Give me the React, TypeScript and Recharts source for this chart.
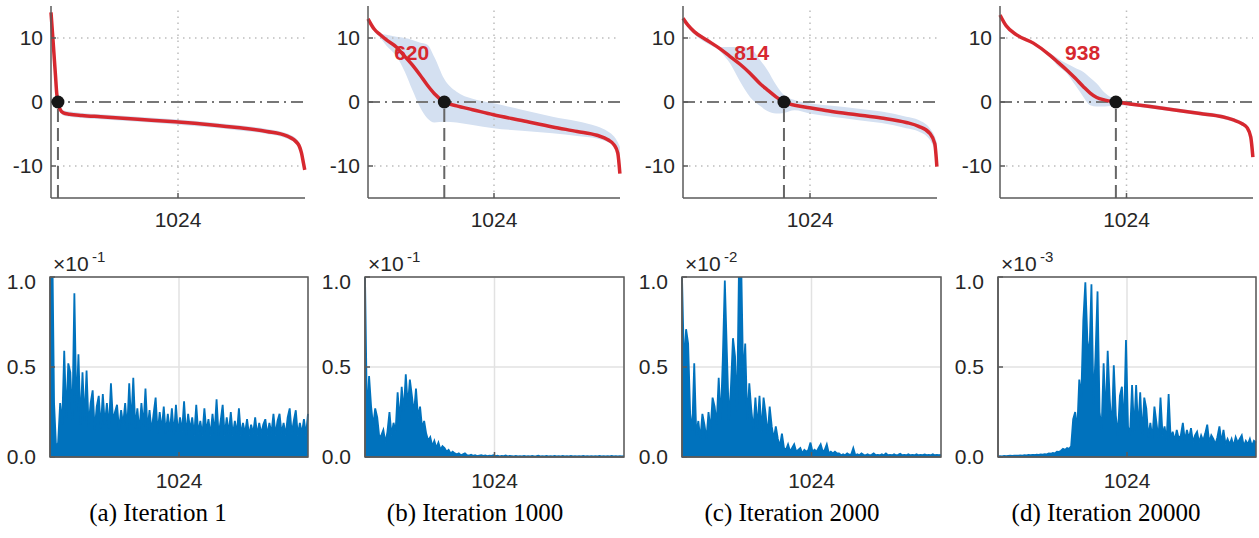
import {
  ComposedChart,
  Line,
  Area,
  XAxis,
  YAxis,
  CartesianGrid,
  ReferenceLine,
  ReferenceDot,
  ReferenceArea,
} from "recharts";

const RED = "#d7282f";
const BAND = "#d4e0f1";
const BLUE = "#0072bd";
const AXIS = "#5a5a5a";
const TEXT = "#262626";
const GRID_DOT = "#bdbdbd";
const SANS = '"Liberation Sans", Arial, Helvetica, sans-serif';
const SERIF = '"Liberation Serif", "Times New Roman", serif';

// top row: sorted values (mean) with the spread band, per iteration
const IDX_A = [0, 12, 24, 36, 46, 56, 75, 100, 150, 250, 400, 700, 1000, 1300, 1500, 1740, 1900, 1990, 2020, 2036, 2046];
const MEAN_A = [14, 10.8, 7.5, 4.2, 1.4, 0, -1.2, -1.7, -1.9, -2.1, -2.3, -2.7, -3.1, -3.6, -4.0, -4.6, -5.3, -6.5, -8.0, -9.6, -10.6];
const LO_A = [14, 10.6, 7.3, 4.0, 1.2, -0.3, -1.6, -2.1, -2.3, -2.5, -2.7, -3.1, -3.5, -4.0, -4.4, -5.0, -5.7, -6.8, -8.2, -9.6, -10.6];
const HI_A = [14, 11.0, 7.7, 4.4, 1.6, 0.3, -0.8, -1.3, -1.5, -1.7, -1.9, -2.3, -2.7, -3.2, -3.6, -4.2, -4.9, -6.0, -7.4, -9.0, -10.2];

const IDX_B = [0, 50, 100, 150, 230, 300, 360, 420, 480, 540, 620, 720, 850, 1020, 1250, 1500, 1700, 1860, 1950, 2000, 2030, 2047];
const MEAN_B = [13.0, 11.4, 10.5, 9.7, 8.6, 7.1, 5.8, 4.3, 2.7, 1.3, 0, -0.6, -1.2, -2.0, -2.9, -3.9, -4.6, -5.2, -5.9, -6.7, -8.0, -11.2];
const LO_B = [12.8, 11.0, 10.0, 8.8, 7.2, 4.7, 1.9, -0.7, -2.5, -3.2, -3.1, -3.2, -3.6, -4.1, -4.5, -4.9, -5.3, -5.7, -6.3, -7.0, -8.0, -9.0];
const HI_B = [13.2, 11.6, 10.8, 10.5, 10.2, 10.0, 9.7, 9.3, 9.0, 7.0, 3.6, 1.6, 0.5, -0.2, -1.2, -2.3, -3.0, -3.8, -4.6, -5.4, -6.3, -7.0];

const IDX_C = [0, 40, 90, 190, 300, 380, 460, 540, 620, 680, 750, 814, 900, 1020, 1200, 1400, 1600, 1800, 1900, 1990, 2030, 2047];
const MEAN_C = [13.1, 12.0, 11.0, 9.7, 8.3, 7.1, 5.9, 4.5, 2.9, 1.9, 0.8, 0, -0.5, -0.9, -1.5, -2.0, -2.5, -3.2, -3.8, -4.9, -6.5, -10.1];
const LO_C = [13.1, 11.6, 10.6, 9.2, 7.9, 6.0, 3.2, 0.8, -0.6, -1.4, -1.8, -1.7, -1.3, -1.8, -2.3, -2.8, -3.3, -4.1, -4.6, -5.9, -7.4, -8.3];
const HI_C = [13.1, 12.2, 11.3, 10.0, 8.6, 8.6, 8.6, 8.4, 6.6, 5.0, 2.7, 1.1, 0.3, -0.2, -0.6, -1.0, -1.5, -2.3, -2.8, -4.1, -5.4, -6.4];

const IDX_D = [0, 50, 135, 270, 405, 470, 540, 610, 675, 730, 783, 850, 938, 1050, 1215, 1400, 1620, 1800, 1889, 1960, 2000, 2030, 2047];
const MEAN_D = [13.6, 11.9, 10.5, 9.2, 7.3, 6.2, 5.0, 3.7, 2.4, 1.4, 0.7, 0.3, 0, -0.3, -0.7, -1.2, -1.8, -2.3, -2.8, -3.4, -4.0, -5.5, -8.6];
const LO_D = [13.5, 11.7, 10.3, 9.0, 7.0, 5.6, 4.5, 2.6, 0.8, -0.5, -0.7, -0.7, -0.5, -0.6, -1.0, -1.5, -2.1, -2.6, -3.1, -3.7, -4.3, -5.8, -8.6];
const HI_D = [13.7, 12.1, 10.7, 9.4, 7.6, 6.8, 6.0, 5.3, 4.7, 3.8, 2.9, 1.4, 0.4, 0.0, -0.4, -0.9, -1.5, -2.0, -2.5, -3.1, -3.7, -5.2, -8.4];

// zero crossing index and its label
const CROSS = [56, 620, 814, 938];
const CROSS_LABELS = ["", "620", "814", "938"];
const LABEL_AT = [0, 355, 554, 669];

// bottom row: spectra, one value every SPEC_STEP bins, in units of the exponent
const SPEC_STEP = 16.125;
const SPEC_A = [
  1.4, 1.3, 0.3, 0.05, 0.08, 0.3, 0.18, 0.59, 0.22, 0.52, 0.47, 0.2, 0.91, 0.25, 0.57, 0.18,
  0.47, 0.2, 0.48, 0.17, 0.3, 0.37, 0.15, 0.28, 0.34, 0.16, 0.35, 0.18, 0.3, 0.16, 0.41, 0.2,
  0.25, 0.29, 0.15, 0.26, 0.18, 0.3, 0.15, 0.41, 0.18, 0.44, 0.16, 0.27, 0.14, 0.3, 0.17, 0.38,
  0.15, 0.26, 0.14, 0.24, 0.33, 0.13, 0.25, 0.15, 0.28, 0.13, 0.24, 0.14, 0.27, 0.12, 0.29, 0.13,
  0.22, 0.14, 0.31, 0.12, 0.24, 0.15, 0.22, 0.12, 0.29, 0.13, 0.2, 0.12, 0.27, 0.14, 0.21, 0.12,
  0.24, 0.13, 0.32, 0.12, 0.2, 0.29, 0.12, 0.22, 0.13, 0.25, 0.12, 0.2, 0.13, 0.27, 0.12, 0.19,
  0.13, 0.21, 0.12, 0.18, 0.13, 0.22, 0.12, 0.19, 0.13, 0.18, 0.21, 0.12, 0.19, 0.13, 0.24, 0.12,
  0.2, 0.24, 0.13, 0.19, 0.12, 0.22, 0.27, 0.13, 0.2, 0.26, 0.12, 0.19, 0.13, 0.21, 0.12, 0.24,
];
const SPEC_B = [
  1.0, 0.2, 0.45, 0.28, 0.17, 0.27, 0.22, 0.11, 0.12, 0.15, 0.08, 0.14, 0.25, 0.12, 0.19, 0.14,
  0.36, 0.2, 0.39, 0.25, 0.46, 0.28, 0.43, 0.34, 0.24, 0.38, 0.22, 0.28, 0.16, 0.2, 0.13, 0.09,
  0.11, 0.06, 0.09, 0.05, 0.08, 0.04, 0.06, 0.05, 0.03, 0.04, 0.02, 0.03, 0.02, 0.015, 0.02, 0.01,
  0.015, 0.02, 0.01, 0.008, 0.012, 0.006, 0.01, 0.005, 0.008, 0.01, 0.006, 0.009, 0.005, 0.008, 0.006, 0.01,
  0.005, 0.007, 0.004, 0.006, 0.005, 0.008, 0.004, 0.006, 0.005, 0.004, 0.006, 0.004, 0.005, 0.004, 0.006, 0.004,
  0.005, 0.004, 0.006, 0.004, 0.005, 0.007, 0.004, 0.005, 0.004, 0.006, 0.004, 0.005, 0.004, 0.006, 0.004, 0.005,
  0.004, 0.006, 0.004, 0.005, 0.004, 0.006, 0.004, 0.005, 0.004, 0.005, 0.004, 0.006, 0.004, 0.005, 0.004, 0.005,
  0.004, 0.005, 0.004, 0.006, 0.004, 0.005, 0.004, 0.005, 0.004, 0.006, 0.004, 0.005, 0.004, 0.005, 0.004, 0.005,
];
const SPEC_C = [
  1.0, 0.5, 0.71, 0.63, 0.24, 0.14, 0.52, 0.12, 0.2, 0.1, 0.24, 0.18, 0.1, 0.25, 0.15, 0.33,
  0.28, 0.18, 0.44, 0.2, 0.54, 0.98, 0.58, 0.2, 0.39, 0.66, 0.56, 0.25, 1.1, 1.1, 0.43, 0.63,
  0.2, 0.41, 0.26, 0.15, 0.33, 0.16, 0.34, 0.14, 0.33, 0.24, 0.12, 0.28, 0.17, 0.1, 0.17, 0.1,
  0.06, 0.13, 0.05, 0.04, 0.07, 0.03, 0.05, 0.07, 0.03, 0.04, 0.05, 0.02, 0.04, 0.03, 0.04, 0.08,
  0.03, 0.04, 0.03, 0.05, 0.07, 0.03, 0.04, 0.07, 0.02, 0.03, 0.02, 0.03, 0.02, 0.02, 0.01, 0.015,
  0.01, 0.02, 0.012, 0.015, 0.05, 0.01, 0.015, 0.01, 0.02, 0.012, 0.01, 0.015, 0.01, 0.012, 0.02, 0.01,
  0.012, 0.01, 0.015, 0.01, 0.02, 0.01, 0.012, 0.01, 0.015, 0.01, 0.012, 0.018, 0.01, 0.012, 0.01, 0.015,
  0.01, 0.012, 0.01, 0.015, 0.01, 0.012, 0.01, 0.014, 0.01, 0.012, 0.01, 0.015, 0.01, 0.012, 0.01, 0.012,
];
const SPEC_D = [
  0.004, 0.005, 0.004, 0.006, 0.005, 0.006, 0.007, 0.006, 0.008, 0.007, 0.008, 0.009, 0.008, 0.01, 0.009, 0.011,
  0.01, 0.012, 0.011, 0.013, 0.012, 0.014, 0.013, 0.016, 0.015, 0.02, 0.018, 0.022, 0.02, 0.03, 0.028, 0.035,
  0.045, 0.04, 0.05, 0.045, 0.06, 0.21, 0.25, 0.15, 0.43, 0.33, 0.76, 0.97, 0.65, 0.56, 0.96, 0.29,
  0.56, 0.92, 0.25, 0.15, 0.52, 0.21, 0.59, 0.32, 0.15, 0.51, 0.23, 0.12, 0.34, 0.39, 0.15, 0.65,
  0.17, 0.12, 0.4, 0.14, 0.4, 0.15, 0.36, 0.12, 0.33, 0.27, 0.11, 0.19, 0.1, 0.28, 0.19, 0.1,
  0.33, 0.12, 0.17, 0.09, 0.35, 0.1, 0.14, 0.09, 0.15, 0.1, 0.12, 0.19, 0.09, 0.15, 0.1, 0.16,
  0.08, 0.12, 0.14, 0.08, 0.12, 0.09, 0.13, 0.18, 0.08, 0.12, 0.1, 0.07, 0.11, 0.17, 0.08, 0.15,
  0.07, 0.1, 0.07, 0.1, 0.06, 0.11, 0.08, 0.1, 0.12, 0.06, 0.09, 0.07, 0.1, 0.06, 0.09, 0.08,
];

const EXPONENTS = ["-1", "-1", "-2", "-3"];
const CAPTIONS = ["(a) Iteration 1", "(b) Iteration 1000", "(c) Iteration 2000", "(d) Iteration 20000"];

// layout (px)
const TOP_LEFT = [51, 368, 683, 1000];
const TOP_W = [254, 252, 254, 253];
const BOT_LEFT = [50, 365, 682, 998];
const BOT_W = [258, 259, 259, 258];
const CAPTION_X = [158, 475, 792, 1106];

const SORTED = [
  { idx: IDX_A, mean: MEAN_A, lo: LO_A, hi: HI_A },
  { idx: IDX_B, mean: MEAN_B, lo: LO_B, hi: HI_B },
  { idx: IDX_C, mean: MEAN_C, lo: LO_C, hi: HI_C },
  { idx: IDX_D, mean: MEAN_D, lo: LO_D, hi: HI_D },
];
const SPECTRA = [SPEC_A, SPEC_B, SPEC_C, SPEC_D];

const tickStyle = { fill: TEXT, fontSize: 21, fontFamily: SANS };

function SortedPanel({ k }: { k: number }) {
  const s = SORTED[k];
  const data = s.idx.map((x, i) => ({ x, mean: s.mean[i], band: [s.lo[i], s.hi[i]] }));
  const w = TOP_W[k];
  const cross = CROSS[k];
  return (
    <div style={{ position: "absolute", left: TOP_LEFT[k] - 50, top: 0 }}>
      <ComposedChart
        width={w + 56}
        height={240}
        data={data}
        margin={{ top: 6, right: 6, bottom: 0, left: 0 }}
        style={{ fontFamily: SANS }}
      >
        <XAxis
          dataKey="x"
          type="number"
          domain={[0, 2048]}
          ticks={[1024]}
          height={42}
          axisLine={{ stroke: AXIS, strokeWidth: 1.5 }}
          tickLine={{ stroke: AXIS, strokeWidth: 1.5 }}
          tickSize={-5}
          tickMargin={19}
          tick={tickStyle}
        />
        <YAxis
          type="number"
          domain={[-15, 15]}
          ticks={[-10, 0, 10]}
          width={50}
          axisLine={{ stroke: AXIS, strokeWidth: 1.5 }}
          tickLine={{ stroke: AXIS, strokeWidth: 1.5 }}
          tickSize={-5}
          tickMargin={13}
          tick={tickStyle}
        />
        <ReferenceLine y={10} stroke={GRID_DOT} strokeWidth={1.5} strokeDasharray="1.5 4.5" />
        <ReferenceLine y={-10} stroke={GRID_DOT} strokeWidth={1.5} strokeDasharray="1.5 4.5" />
        <ReferenceLine x={1024} stroke={GRID_DOT} strokeWidth={1.5} strokeDasharray="1.5 4.5" />
        <Area
          dataKey="band"
          type="monotone"
          fill={BAND}
          fillOpacity={1}
          stroke="none"
          isAnimationActive={false}
        />
        <ReferenceLine y={0} stroke="#777" strokeWidth={2} strokeDasharray="12 5 2 5" />
        <ReferenceLine
          segment={[{ x: cross, y: -15 }, { x: cross, y: 0 }]}
          stroke="#666"
          strokeWidth={2}
          strokeDasharray="13 6"
        />
        <Line
          dataKey="mean"
          type="monotone"
          stroke={RED}
          strokeWidth={3.5}
          dot={false}
          isAnimationActive={false}
        />
        <ReferenceDot x={cross} y={0} r={6.5} fill="#161616" stroke="none" />
        {CROSS_LABELS[k] && (
          <ReferenceDot
            x={LABEL_AT[k]}
            y={7.8}
            r={0}
            fill="none"
            stroke="none"
            label={{ value: CROSS_LABELS[k], fill: RED, fontSize: 21, fontWeight: 700, position: "center" }}
          />
        )}
      </ComposedChart>
    </div>
  );
}

function SpectrumPanel({ k }: { k: number }) {
  const data = SPECTRA[k].map((v, i) => ({ x: i * SPEC_STEP, v }));
  const left = BOT_LEFT[k];
  const w = BOT_W[k];
  return (
    <>
      <div style={{ position: "absolute", left: left - 50, top: 269 }}>
        <ComposedChart
          width={w + 56}
          height={240}
          data={data}
          margin={{ top: 8, right: 6, bottom: 0, left: 0 }}
          style={{ fontFamily: SANS }}
        >
          <CartesianGrid stroke="#e2e2e2" strokeWidth={1.5} />
          <XAxis
            dataKey="x"
            type="number"
            domain={[0, 2048]}
            ticks={[1024]}
            height={52}
            axisLine={{ stroke: AXIS, strokeWidth: 1.5 }}
            tickLine={{ stroke: AXIS, strokeWidth: 1.5 }}
            tickSize={-5}
            tickMargin={21}
            tick={tickStyle}
          />
          <YAxis
            type="number"
            domain={[0, 1]}
            ticks={[0, 0.5, 1]}
            allowDataOverflow
            width={50}
            axisLine={{ stroke: AXIS, strokeWidth: 1.5 }}
            tickLine={{ stroke: AXIS, strokeWidth: 1.5 }}
            tickSize={-5}
            tickMargin={19}
            tick={tickStyle}
            tickFormatter={(v: number) => v.toFixed(1)}
          />
          <Area
            dataKey="v"
            type="linear"
            stroke={BLUE}
            strokeWidth={1.8}
            fill={BLUE}
            fillOpacity={1}
            isAnimationActive={false}
          />
          <ReferenceArea x1={0} x2={2048} y1={0} y2={1} fill="none" fillOpacity={0} stroke={AXIS} strokeWidth={1.5} />
        </ComposedChart>
      </div>
      <div
        style={{
          position: "absolute",
          left: left + 3,
          top: 253,
          fontFamily: SANS,
          fontSize: 21,
          lineHeight: 1,
          color: TEXT,
          whiteSpace: "nowrap",
        }}
      >
        ×10
      </div>
      <div
        style={{
          position: "absolute",
          left: left + 42,
          top: 249,
          fontFamily: SANS,
          fontSize: 15,
          lineHeight: 1,
          color: TEXT,
          whiteSpace: "nowrap",
        }}
      >
        {EXPONENTS[k]}
      </div>
      <div
        style={{
          position: "absolute",
          left: CAPTION_X[k] - 150,
          width: 300,
          top: 500,
          textAlign: "center",
          fontFamily: SERIF,
          fontSize: 25,
          lineHeight: 1,
          color: "#000",
          whiteSpace: "nowrap",
        }}
      >
        {CAPTIONS[k]}
      </div>
    </>
  );
}

export default function App() {
  return (
    <div
      style={{
        position: "absolute",
        left: 0,
        top: 0,
        width: 1259,
        height: 538,
        background: "#fff",
        overflow: "hidden",
      }}
    >
      {[0, 1, 2, 3].map((k) => (
        <SortedPanel key={`t${k}`} k={k} />
      ))}
      {[0, 1, 2, 3].map((k) => (
        <SpectrumPanel key={`b${k}`} k={k} />
      ))}
    </div>
  );
}
